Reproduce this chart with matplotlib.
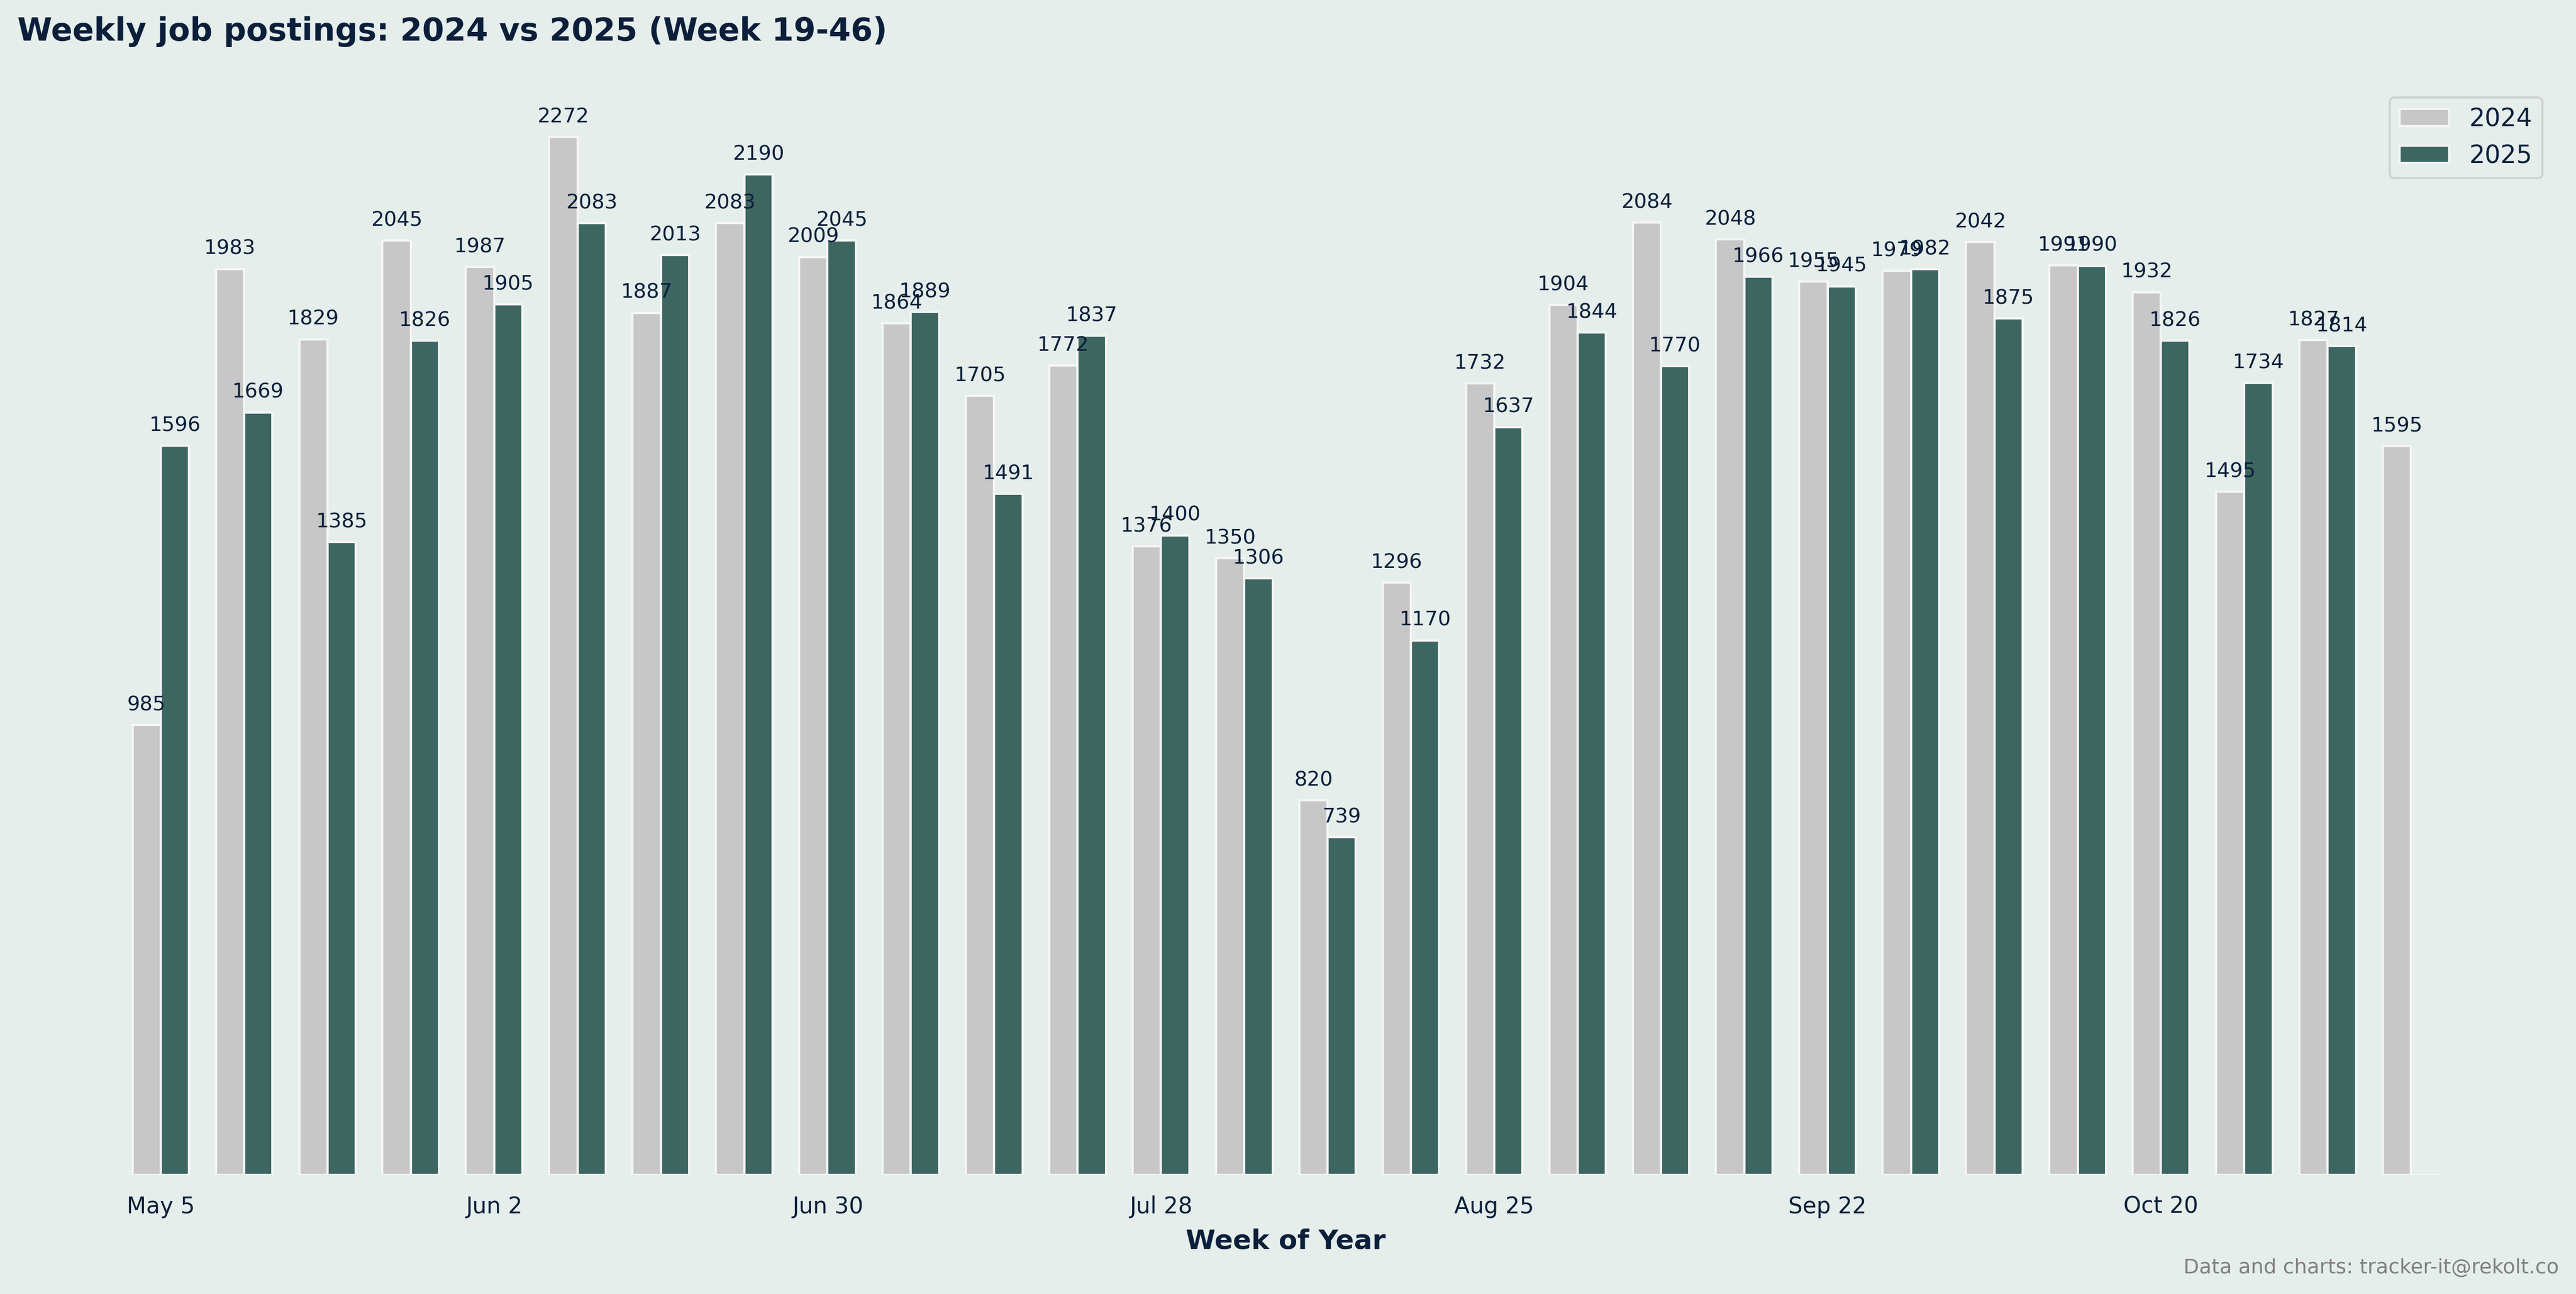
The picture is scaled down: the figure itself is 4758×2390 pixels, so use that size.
import numpy as np
import matplotlib
matplotlib.use("Agg")
import matplotlib.pyplot as plt

# ---- data ----
weeks = list(range(19, 47))
values_2024 = [985, 1983, 1829, 2045, 1987, 2272, 1887, 2083, 2009, 1864,
               1705, 1772, 1376, 1350, 820, 1296, 1732, 1904, 2084, 2048,
               1955, 1979, 2042, 1991, 1932, 1495, 1827, 1595]
values_2025 = [1596, 1669, 1385, 1826, 1905, 2083, 2013, 2190, 2045, 1889,
               1491, 1837, 1400, 1306, 739, 1170, 1637, 1844, 1770, 1966,
               1945, 1982, 1875, 1990, 1826, 1734, 1814, None]
tick_weeks = [19, 23, 27, 31, 35, 39, 43]
tick_labels = ["May 5", "Jun 2", "Jun 30", "Jul 28", "Aug 25", "Sep 22", "Oct 20"]
series_names = ["2024", "2025"]

# ---- style ----
BG = "#e5eeeb"
C24 = "#c6c7c6"
C25 = "#3d6661"
TXT = "#0b1f3a"
EDGE = "#f4f6f5"

fig = plt.figure(figsize=(4758 / 300, 2390 / 300), dpi=300, facecolor=BG)
ax = fig.add_axes([0.00664, 0.09205, 0.9851, 0.8423])
ax.set_facecolor(BG)

x = np.arange(len(weeks))
w = 0.34
v24 = np.array(values_2024, dtype=float)
v25 = np.array([np.nan if v is None else v for v in values_2025], dtype=float)
v25_draw = np.nan_to_num(v25, nan=0.0)

b1 = ax.bar(x - w / 2, v24, w, color=C24, edgecolor=EDGE, linewidth=1.0,
            label=series_names[0])
b2 = ax.bar(x + w / 2, v25_draw, w, color=C25, edgecolor=EDGE, linewidth=1.0,
            label=series_names[1])

for bars, vals in ((b1, v24), (b2, v25)):
    for rect, v in zip(bars, vals):
        if np.isnan(v):
            continue
        ax.annotate(f"{int(v)}", (rect.get_x() + rect.get_width() / 2, v),
                    xytext=(0, 4.5), textcoords="offset points",
                    ha="center", va="bottom", fontsize=9, color=TXT)

tick_pos = [weeks.index(t) for t in tick_weeks]
ax.set_xticks(tick_pos)
ax.set_xticklabels(tick_labels)
ax.tick_params(axis="x", length=0, pad=9, labelsize=10, labelcolor=TXT)
ax.set_yticks([])
for s in ax.spines.values():
    s.set_visible(False)

ax.set_xlabel("Week of Year", fontsize=12, fontweight="bold", color=TXT,
              labelpad=4.5)

leg = ax.legend(loc="upper right", fontsize=11, frameon=True,
                facecolor=BG, edgecolor="#d0d3d2", framealpha=1.0)
for t in leg.get_texts():
    t.set_color(TXT)

fig.text(32 / 4758, 1 - 75 / 2390,
         "Weekly job postings: 2024 vs 2025 (Week 19-46)",
         fontsize=14, fontweight="bold", color=TXT, ha="left", va="baseline")
fig.text(4726 / 4758, 1 - 2352 / 2390,
         "Data and charts: tracker-it@rekolt.co",
         fontsize=9, color="#808080", ha="right", va="baseline")

fig.savefig("out.png", dpi=300, facecolor=BG)
